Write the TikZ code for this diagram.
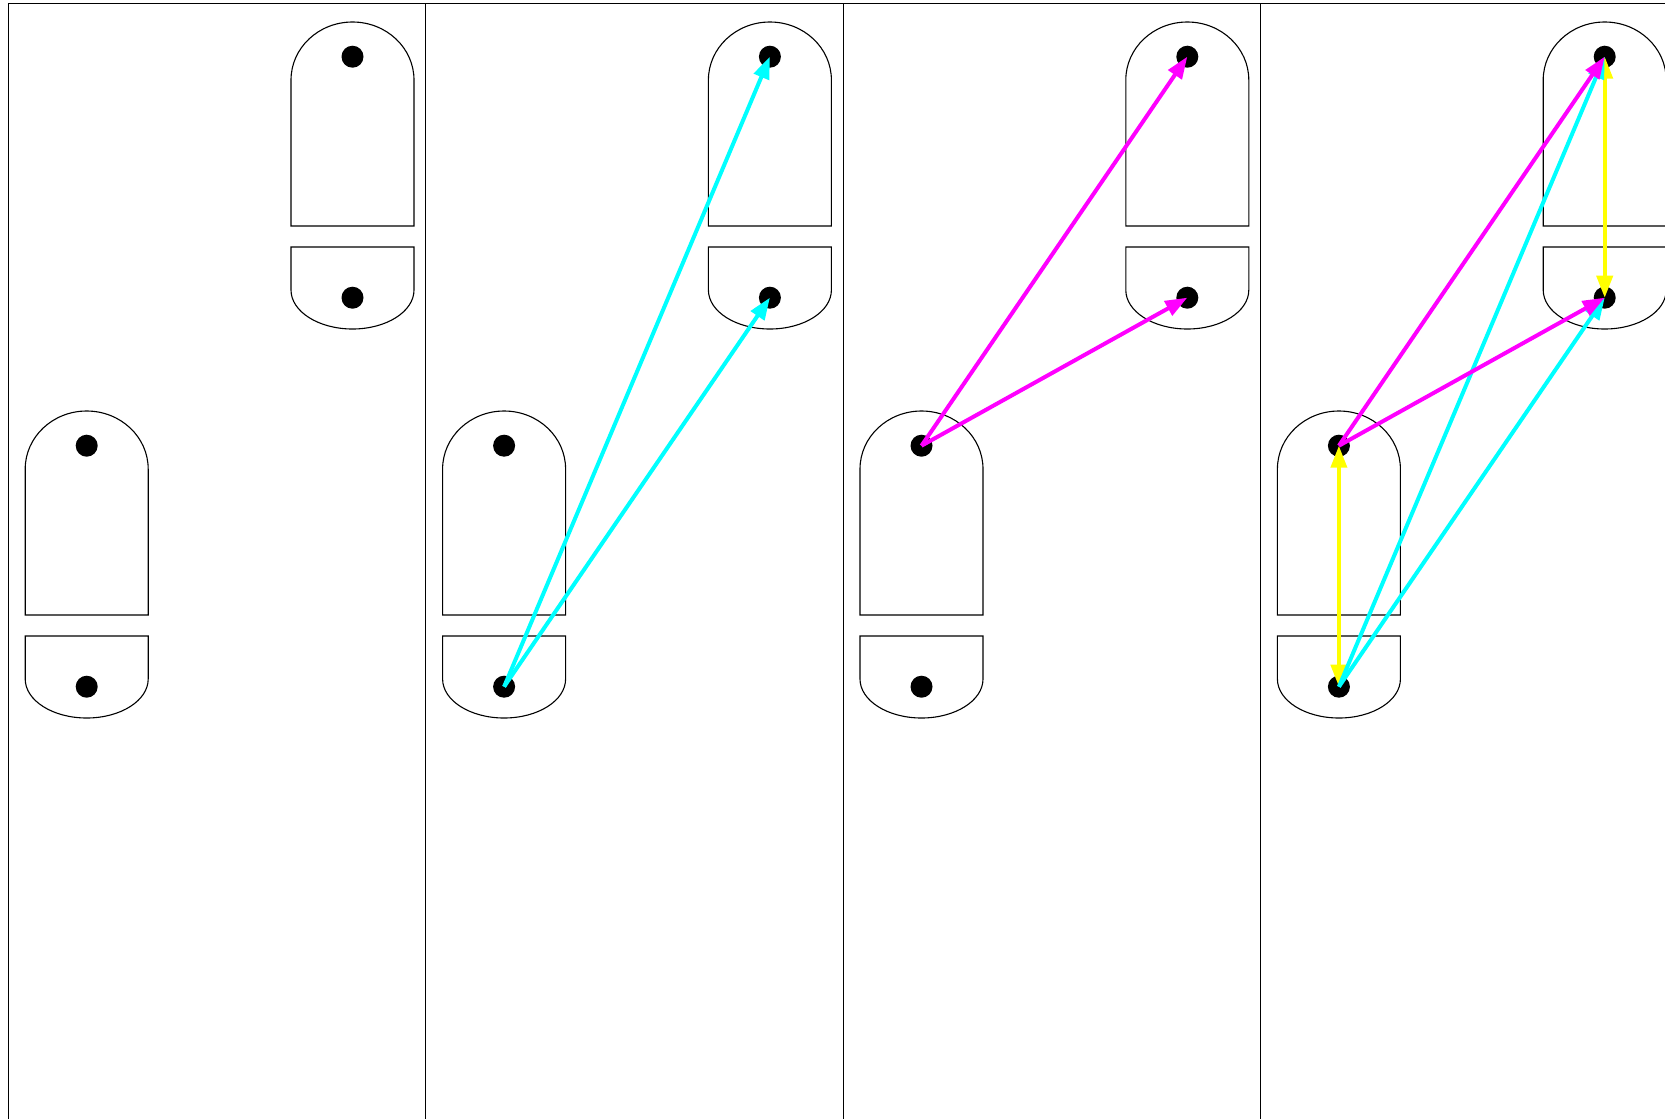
\documentclass[tikz,border=0pt]{standalone}
\usetikzlibrary{arrows.meta}
\definecolor{cy}{RGB}{0,255,255}
\definecolor{mg}{RGB}{255,0,255}
\definecolor{yl}{RGB}{255,255,0}
\tikzset{
  outline/.style={draw=black,line width=1.1pt},
  frame/.style={draw=black,line width=1.1pt},
  dot/.style={circle,fill=black,minimum size=22pt,inner sep=0pt},
  link/.style={line width=4pt,-{Triangle[length=22pt,width=16pt]}},
  both/.style={line width=4pt,{Triangle[length=22pt,width=16pt]}-{Triangle[length=22pt,width=16pt]}},
  capsule/.pic={
    \draw[outline] (-61.5,226) -- (-61.5,80)
      arc[start angle=180,end angle=0,x radius=61.5pt,y radius=58pt]
      -- (61.5,226) -- cycle;
    \draw[outline] (-61.5,247) -- (-61.5,290)
      arc[start angle=180,end angle=360,x radius=61.5pt,y radius=39pt]
      -- (61.5,247) -- cycle;
    \node[dot] (-a) at (0,56.7) {};
    \node[dot] (-b) at (0,297.7) {};
  }
}
\begin{document}
\begin{tikzpicture}[x=1pt,y=-1pt]
\useasboundingbox (0,0) rectangle (1665,1119);
% frame
\draw[frame] (8.3,1119) -- (8.3,3.3) -- (1665,3.3);
\draw[frame] (425.7,3.3) -- (425.7,1119);
\draw[frame] (843.1,3.3) -- (843.1,1119);
\draw[frame] (1260.5,3.3) -- (1260.5,1119);
% capsules
\pic (u1) at (352.5,0) {capsule};
\pic (l1) at (86.7,389) {capsule};
\pic (u2) at (769.9,0) {capsule};
\pic (l2) at (504.1,389) {capsule};
\pic (u3) at (1187.3,0) {capsule};
\pic (l3) at (921.5,389) {capsule};
\pic (u4) at (1604.7,0) {capsule};
\pic (l4) at (1338.9,389) {capsule};
% panel 2
\draw[link,cy] (l2-b.center) -- (u2-a.center);
\draw[link,cy] (l2-b.center) -- (u2-b.center);
% panel 3
\draw[link,mg] (l3-a.center) -- (u3-a.center);
\draw[link,mg] (l3-a.center) -- (u3-b.center);
% panel 4
\draw[both,yl] (l4-a.center) -- (l4-b.center);
\draw[both,yl] (u4-a.center) -- (u4-b.center);
\draw[link,cy] (l4-b.center) -- (u4-a.center);
\draw[link,cy] (l4-b.center) -- (u4-b.center);
\draw[link,mg] (l4-a.center) -- (u4-a.center);
\draw[link,mg] (l4-a.center) -- (u4-b.center);
\end{tikzpicture}
\end{document}
